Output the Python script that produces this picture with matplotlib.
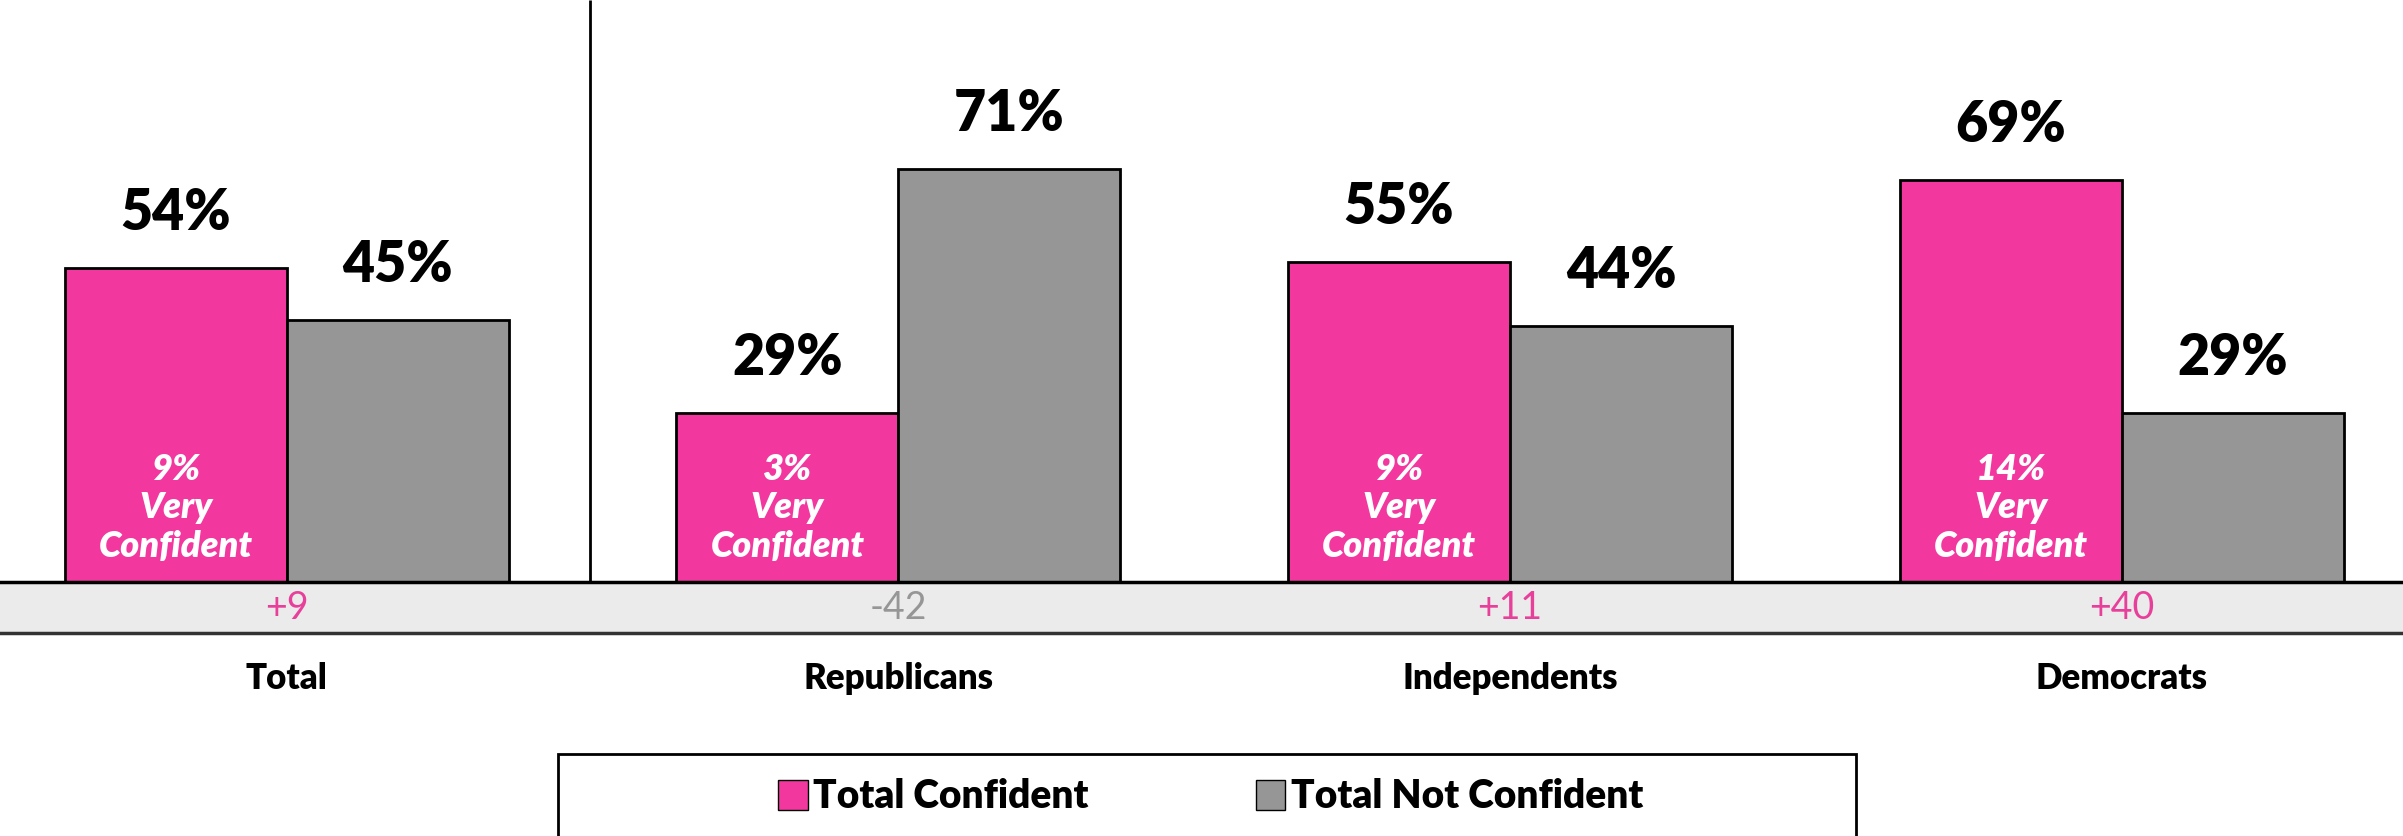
import matplotlib
matplotlib.use("Agg")
import matplotlib.pyplot as plt
from matplotlib.patches import Patch, Rectangle

plt.rcParams['font.family'] = ['Lato', 'DejaVu Sans']

# data
groups = ["Total", "Republicans", "Independents", "Democrats"]
confident = [54, 29, 55, 69]
not_confident = [45, 71, 44, 29]
very_confident = [9, 3, 9, 14]
net = ["+9", "-42", "+11", "+40"]

PINK = "#F2389F"
GRAY = "#969696"

fig = plt.figure(figsize=(24.03, 8.36), dpi=100)
ax = fig.add_axes([0, 0, 1, 1])
ax.set_xlim(-0.469, 3.46)
ax.set_ylim(-43.6, 100)
ax.axis("off")

w = 0.363
x = range(len(groups))
ax.bar([i - w / 2 for i in x], confident, w, color=PINK, edgecolor="black", linewidth=2, zorder=3)
ax.bar([i + w / 2 for i in x], not_confident, w, color=GRAY, edgecolor="black", linewidth=2, zorder=3)

for i in x:
    ax.text(i - w / 2, confident[i] + 5, f"{confident[i]}%", ha="center", va="bottom",
            fontsize=40, fontweight="heavy")
    ax.text(i + w / 2, not_confident[i] + 5, f"{not_confident[i]}%", ha="center", va="bottom",
            fontsize=40, fontweight="heavy")
    ax.text(i - w / 2, 12.8, f"{very_confident[i]}%\nVery\nConfident", ha="center", va="center",
            fontsize=26, fontweight="heavy", style="italic", color="white", linespacing=1.2, zorder=4)
    col = GRAY if net[i].startswith("-") else "#E8409A"
    ax.text(i, -4.4, net[i], ha="center", va="center", fontsize=27, color=col)
    ax.text(i, -16.5, groups[i], ha="center", va="center", fontsize=25, fontweight="heavy")

# net band
ax.axhspan(-8.7, 0, color="#EBEBEB", zorder=1)
ax.axhline(0, color="black", lw=2.5, zorder=5)
ax.axhline(-8.7, color="#333333", lw=2.5, zorder=5)
ax.vlines(0.496, 0, 100, color="black", lw=2)

# legend box
fig.patches.append(Rectangle((558 / 2403, -0.05), (1856 - 558) / 2403, (0.05 + (836 - 754) / 836),
                             transform=fig.transFigure, fill=False, edgecolor="black", lw=2))
handles = [Patch(facecolor=PINK, edgecolor="black", label="Total Confident"),
           Patch(facecolor=GRAY, edgecolor="black", label="Total Not Confident")]
fig.legend(handles=handles, loc="center", bbox_to_anchor=(1211 / 2403, 1 - 797 / 836), ncol=2,
           frameon=False, handlelength=0.75, handleheight=0.8, handletextpad=0.15,
           columnspacing=4.3, prop={"size": 28, "weight": "heavy"})

fig.savefig("out.png", dpi=100)
